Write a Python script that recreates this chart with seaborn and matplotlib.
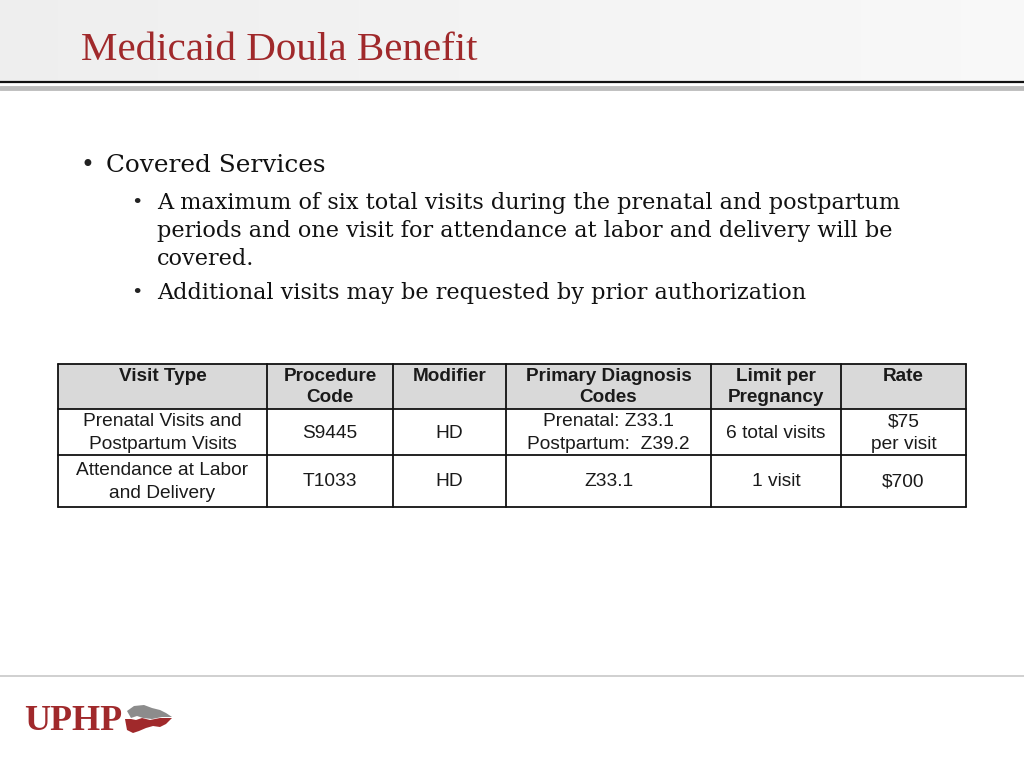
import numpy as np
import matplotlib
matplotlib.use("Agg")
import matplotlib.pyplot as plt
import seaborn as sns
from matplotlib.patches import Rectangle, Polygon

# slide content
title = "Medicaid Doula Benefit"
bullet_main = "Covered Services"
sub_bullets = [
    ["A maximum of six total visits during the prenatal and postpartum",
     "periods and one visit for attendance at labor and delivery will be",
     "covered."],
    ["Additional visits may be requested by prior authorization"],
]

# table content
headers = ["Visit Type", "Procedure\nCode", "Modifier", "Primary Diagnosis\nCodes",
           "Limit per\nPregnancy", "Rate"]
row_prenatal = ["Prenatal Visits and\nPostpartum Visits", "S9445", "HD",
                "Prenatal: Z33.1\nPostpartum:  Z39.2", "6 total visits", "$75\nper visit"]
row_labor = ["Attendance at Labor\nand Delivery", "T1033", "HD", "Z33.1", "1 visit", "$700"]

# layout (pixels)
col_edges = [58, 267, 393, 506, 711, 841, 966]
row_edges = [364, 409, 455, 507]

RED = "#a0292b"

sns.set_theme(style="white")
plt.rcParams["font.family"] = ["DejaVu Serif"]

fig = plt.figure(figsize=(10.24, 7.68), dpi=100)
ax = fig.add_axes([0, 0, 1, 1])

# header band with soft gradient
g = np.linspace(0.935, 0.975, 1024)
grad = np.dstack([g, g, g]).reshape(1, -1, 3)
ax.imshow(grad, extent=[0, 1024, 82, 0], aspect="auto", interpolation="bilinear", zorder=0)
ax.plot([0, 1024], [82, 82], color="#111111", lw=1.6, zorder=2)
ax.plot([0, 1024], [87.5, 87.5], color="#bdbdbd", lw=3.5, zorder=2)
ax.set_xlim(0, 1024)
ax.set_ylim(768, 0)
ax.axis("off")

ax.text(81, 51, title, fontsize=29.5, color=RED, family="Liberation Serif",
        va="center", ha="left")

# bullets
ax.text(80, 165, "•", fontsize=17, va="center", ha="left", color="#222222")
ax.text(106, 166, bullet_main, fontsize=17.8, va="center", ha="left", color="#111111")
y = 203
for block in sub_bullets:
    ax.text(131, y, "•", fontsize=14, va="center", ha="left", color="#222222")
    for line in block:
        ax.text(157, y, line, fontsize=16.1, va="center", ha="left", color="#111111")
        y += 28
    y += 6

# table
ax.add_patch(Rectangle((col_edges[0], row_edges[0]), col_edges[-1] - col_edges[0],
                       row_edges[1] - row_edges[0], facecolor="#d9d9d9", edgecolor="none", zorder=1))
for x in col_edges:
    ax.plot([x, x], [row_edges[0], row_edges[-1]], color="#111111", lw=1.3, zorder=3)
for yy in row_edges:
    ax.plot([col_edges[0], col_edges[-1]], [yy, yy], color="#111111", lw=1.3, zorder=3)

for r, row in enumerate([headers, row_prenatal, row_labor]):
    y0, y1 = row_edges[r], row_edges[r + 1]
    for c, txt in enumerate(row):
        xc = (col_edges[c] + col_edges[c + 1]) / 2
        if r == 0:
            ax.text(xc, y0 + 4, txt, fontsize=13.6, fontweight="bold", family="Liberation Sans",
                    ha="center", va="top", color="#1a1a1a", linespacing=1.3)
        else:
            ax.text(xc, (y0 + y1) / 2 + 1, txt, fontsize=13.8, family="Liberation Sans",
                    ha="center", va="center", color="#1a1a1a", linespacing=1.42)

# footer
ax.plot([0, 1024], [676, 676], color="#c8c8c8", lw=1.2)
ax.text(24, 721, "UPHP", fontsize=26, fontweight="bold", family="Liberation Serif",
        color=RED, va="center", ha="left")
ax.add_patch(Polygon([[127, 711], [134, 706], [144, 705], [152, 708], [160, 710], [166, 713],
                      [172, 717], [162, 717], [152, 719], [143, 718], [137, 716], [131, 718]],
                     closed=True, facecolor="#8c8c8c", edgecolor="none"))
ax.add_patch(Polygon([[125, 719], [131, 719], [136, 720], [142, 718], [150, 720], [160, 718],
                      [172, 718], [166, 724], [160, 727], [153, 726], [146, 728], [139, 731],
                      [133, 733], [127, 730]],
                     closed=True, facecolor=RED, edgecolor="none"))

fig.savefig("out.png", dpi=100)
